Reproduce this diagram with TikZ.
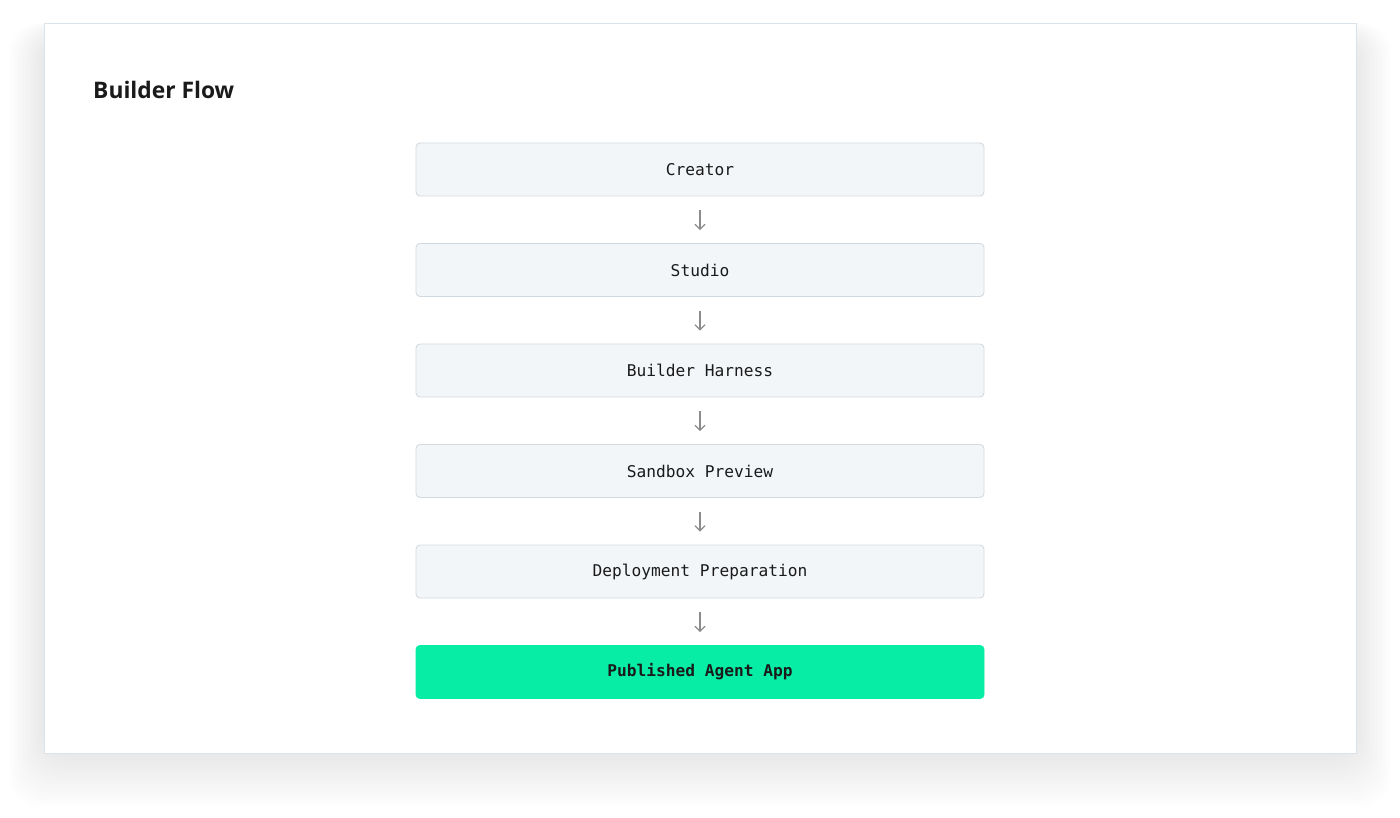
\documentclass[tikz,border=0pt]{standalone}
\usepackage{fontspec}
\setmainfont{Open Sans}
\newfontfamily\monofont{DejaVu Sans Mono}
\usetikzlibrary{arrows.meta}
\definecolor{boxfill}{HTML}{F3F6F9}
\definecolor{boxline}{HTML}{D3DADF}
\definecolor{cardline}{HTML}{DCE3E8}
\definecolor{greenfill}{HTML}{07EDA5}
\definecolor{arrgray}{HTML}{8C8C8C}
\definecolor{textdark}{HTML}{1A1A1A}
\tikzset{
  stepbox/.style={draw=boxline, fill=boxfill, line width=0.9pt, rounded corners=4pt,
    minimum width=568pt, minimum height=53pt, inner sep=0pt,
    font=\monofont\fontsize{16.2}{18}\selectfont, text=textdark},
  finalbox/.style={stepbox, draw=greenfill, fill=greenfill, font=\monofont\bfseries\fontsize{16.2}{18}\selectfont},
  flowarrow/.style={draw=arrgray, line width=1.2pt, -{Straight Barb[length=5pt,width=10pt,line width=1.2pt]}},
  card/.style={draw=cardline, fill=white, line width=1pt},
}
\begin{document}
\begin{tikzpicture}[x=1pt,y=-1pt]
\useasboundingbox (0,0) rectangle (1400,818);
\fill[white] (0,0) rectangle (1400,818);
% soft shadow
\foreach \i in {1,...,22} {
  \fill[black, opacity=0.0024, rounded corners=30pt]
    (44-1.6*\i, 24-0.5*\i+10) rectangle (1356+1.6*\i, 753+2.4*\i+2);
}
\draw[card] (44,24) rectangle (1356,753);
\node[anchor=base west, font=\bfseries\fontsize{22.8}{27}\selectfont, text=textdark, inner sep=0pt] (title) at (93,99) {Builder Flow};

\node[stepbox] (creator) at (700,169.5) {Creator};
\node[stepbox] (studio) at (700,270) {Studio};
\node[stepbox] (harness) at (700,370.5) {Builder Harness};
\node[stepbox] (sandbox) at (700,471) {Sandbox Preview};
\node[stepbox] (deploy) at (700,571.5) {Deployment Preparation};
\node[finalbox] (app) at (700,672) {Published Agent App};

\foreach \a/\b in {creator/studio, studio/harness, harness/sandbox, sandbox/deploy, deploy/app} {
  \draw[flowarrow] ([yshift=-14pt]\a.south) -- ([yshift=13pt]\b.north);
}
\end{tikzpicture}
\end{document}
